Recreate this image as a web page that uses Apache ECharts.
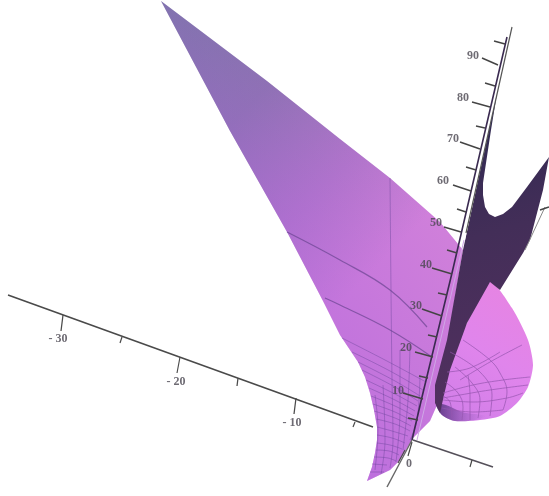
<!DOCTYPE html>
<html>
<head>
<meta charset="utf-8">
<script src="https://cdn.jsdelivr.net/npm/echarts@6/dist/echarts.min.js"></script>
<style>html,body{margin:0;background:#fff}#main{width:549px;height:496px}</style>
</head>
<body>
<div id="main"></div>
<script>
var sheetEdge = [[161,1],[267,81],[340,139],[390,178],[440,222],[463,250],[437,405],[430,421],[413,438],[400,460],[390,470],[367,481],[372,467],[375,453],[377,440],[377,427],[374,410],[370,393],[365,377],[358,362],[350,350],[340,335],[323,301],[287,232],[230,131]];
var lobeEdge = [[437,405],[442,415],[455,421],[480,420],[500,416],[517,403],[528,387],[533,365],[528,340],[512,308],[490,282],[467,323],[450,357],[438,395]];
var lobeShade = [[436,404],[442,415],[455,421],[475,420],[486,416],[462,412],[446,405]];
var darkEdge = [[497,93],[463,250],[447,340],[435,385],[435,403],[440,413],[444,395],[450,370],[467,323],[490,282],[500,290],[523,253],[530,240],[543,190],[549,157],[527,187],[512,207],[503,214],[495,217],[489,214],[485,207],[483,195],[483,183],[491,130]];

var sheetBigRows = [
  [[287,232],[340,260],[390,290],[427,327]],
  [[325,298],[340,305],[390,330],[432,357]]
];
var sheetRows = [
  [[342,338],[385,360],[426,382]],
  [[352,352],[390,371],[423,390]],
  [[358,362],[395,381],[420,396]],
  [[362,370],[395,387],[418,401]],
  [[366,380],[395,394],[417,406]],
  [[369,388],[395,400],[415,411]],
  [[371,396],[395,406],[414,416]],
  [[373,404],[395,412],[412,421]],
  [[374,411],[395,418],[411,426]],
  [[376,419],[395,424],[410,431]],
  [[377,427],[392,431],[408,436]],
  [[377,435],[392,438],[405,443]],
  [[377,443],[390,445],[402,449]],
  [[376,450],[389,451],[399,455]],
  [[374,457],[388,458],[396,461]],
  [[372,464],[387,465]],
  [[370,472],[384,472]]
];
var sheetCols = [
  [[390,178],[391,290],[392,380],[393,440],[390,468]],
  [[375,395],[378,430],[375,470]],
  [[383,385],[385,440],[381,474]],
  [[400,350],[400,410],[396,462]],
  [[410,345],[408,400],[403,450]],
  [[420,375],[417,420],[410,440]]
];
var lobeRays = [
  [[460,380],[490,362],[522,345]],
  [[443,393],[473,385],[503,380],[530,377]],
  [[443,400],[473,402],[507,398],[523,393]],
  [[442,408],[473,412],[503,410]],
  [[447,372],[470,368],[500,352]],
  [[443,398],[460,395],[490,390],[528,385]]
];
var lobeArcs = [
  [[463,340],[490,360],[500,373],[507,392],[503,410]],
  [[455,367],[472,383],[480,400],[478,418]],
  [[445,382],[458,393],[463,407],[462,420]],
  [[443,396],[450,402],[452,418]],
  [[450,352],[480,372],[492,395],[490,416]],
  [[468,375],[470,395],[470,420]]
];

var xAxisLeft = [[8,295],[373,427]];
var xAxisRight = [[413,440],[493,467]];
var zAxisTicked = [[507,37],[452,273],[422,397],[412,440]];
var zAxisLower = [[412,440],[387,487]];
var zAxisStripeTop = [[509,32],[464,240]];
var zAxisStripeLow = [[464,240],[417,440]];
var zAxisOuter = [[512,27],[466,233]];
var farLine = [[525,250],[545,207]];

var xTicks = [
  [[63,315],[61,331]], [[122,337],[120,343]], [[180,357],[177,373]], [[238,378],[237,386]],
  [[296,398],[294,414]], [[355,422],[353,427]], [[472,460],[470,467]], [[412,442],[408,456]], [[405,450],[398,463]]
];
var zTicks = [
  [[482,58],[498,65]], [[472,102],[490,107]], [[460,142],[480,149]], [[453,185],[471,191]], [[444,227],[461,232]],
  [[432,268],[452,274]], [[422,309],[442,316]], [[415,352],[433,357]], [[403,393],[423,399]],
  [[494,41],[505,44]], [[485,83],[495,86]], [[476,126],[485,128]], [[466,167],[476,170]], [[457,209],[466,212]],
  [[447,250],[457,253]], [[438,293],[447,295]], [[428,335],[437,337]], [[419,376],[428,378]], [[408,418],[418,420]],
  [[540,210],[549,207]]
];
var labelNames = ['90','80','70','60','50','40','30','20','10','- 30','- 20','- 10','0'];
var labelSpots = [[473,56],[463,98],[453,139],[443,181],[436,223],[426,265],[416,306],[406,348],[398,391],[58,339],[176,382],[292,423],[409,464]];

var G = echarts.graphic.LinearGradient;

function poly(points, fill, smooth) {
	return {
		type: 'custom',
		silent: true,
		clip: false,
		data: [0],
		renderItem: function(params, api) {
			var pts = [];
			for(var i=0;i<points.length;i++) {
				pts.push(api.coord(points[i]));
			}
			return {
				type: 'polygon',
				shape: {points: pts, smooth: smooth || 0},
				style: {fill: fill}
			};
		}
	};
}

function line(points, color, width, smooth) {
	return {
		type: 'line',
		silent: true,
		data: points,
		symbol: 'none',
		smooth: smooth ? 0.4 : false,
		clip: false,
		animation: false,
		lineStyle: {color: color, width: width}
	};
}

function lines(list, color, width, smooth) {
	var out = [];
	for(var i=0;i<list.length;i++) {
		out.push(line(list[i], color, width, smooth));
	}
	return out;
}

var series = [];
series.push(poly(sheetEdge, new G(0, 0, 0.8, 0.5, [
	{offset: 0, color: '#75799f'},
	{offset: 0.4, color: '#8a74ad'},
	{offset: 0.72, color: '#b076c8'},
	{offset: 1, color: '#d080da'}
])));
series.push(poly(sheetEdge, new G(1, 0.5, 0.1, 0.9, [
	{offset: 0, color: 'rgba(170,95,225,0)'},
	{offset: 0.6, color: 'rgba(170,95,225,0.45)'},
	{offset: 1, color: 'rgba(165,90,215,0.8)'}
])));
series = series.concat(lines(sheetBigRows, 'rgba(100,65,140,0.65)', 1.2, true));
series = series.concat(lines(sheetRows, 'rgba(100,65,150,0.4)', 1, true));
series = series.concat(lines(sheetCols, 'rgba(100,65,150,0.4)', 1, true));
series.push(poly(lobeEdge, new G(0, 1, 1, 0, [
	{offset: 0, color: '#cf7de8'},
	{offset: 0.5, color: '#e085ec'},
	{offset: 1, color: '#e884e0'}
]), 0.25));
series.push(poly(lobeShade, new G(0, 0.5, 1, 0.5, [
	{offset: 0, color: 'rgba(75,45,115,0.85)'},
	{offset: 1, color: 'rgba(130,80,180,0)'}
]), 0.3));
series = series.concat(lines(lobeRays, 'rgba(150,85,175,0.7)', 1, true));
series = series.concat(lines(lobeArcs, 'rgba(150,85,175,0.7)', 1, true));
series.push(poly(darkEdge, new G(0, 0, 0.8, 1, [
	{offset: 0, color: '#2a2850'},
	{offset: 0.45, color: '#432e58'},
	{offset: 1, color: '#543060'}
])));
series.push(line(xAxisLeft, '#4a4a4a', 1.6));
series.push(line(xAxisRight, '#55505a', 1.6));
series.push(line(farLine, '#888', 1));
series.push(line(zAxisStripeLow, '#cfa8e6', 1));
series.push(line(zAxisStripeTop, '#fff', 2));
series.push(line(zAxisOuter, '#555', 1.2));
series.push(line(zAxisTicked, '#3a2a50', 1.6));
series.push(line(zAxisLower, '#666', 1.4));
series = series.concat(lines(xTicks, '#4a4a4a', 1.2));
series = series.concat(lines(zTicks, '#444', 1.4));

var labelData = [];
for(var i=0;i<labelNames.length;i++) {
	labelData.push({name: labelNames[i], value: labelSpots[i]});
}
series.push({
	type: 'scatter',
	silent: true,
	symbolSize: 0,
	data: labelData,
	label: {
		show: true,
		position: 'inside',
		formatter: '{b}',
		fontFamily: 'Liberation Serif',
		fontWeight: 'bold',
		fontSize: 12,
		color: '#4a4650'
	}
});

var myChart = echarts.init(document.getElementById('main'));
myChart.setOption({
	backgroundColor: '#fff',
	animation: false,
	grid: {left: 0, right: 0, top: 0, bottom: 0},
	xAxis: {type: 'value', min: 0, max: 549, show: false},
	yAxis: {type: 'value', min: 0, max: 496, inverse: true, show: false},
	series: series
});
</script>
</body>
</html>
